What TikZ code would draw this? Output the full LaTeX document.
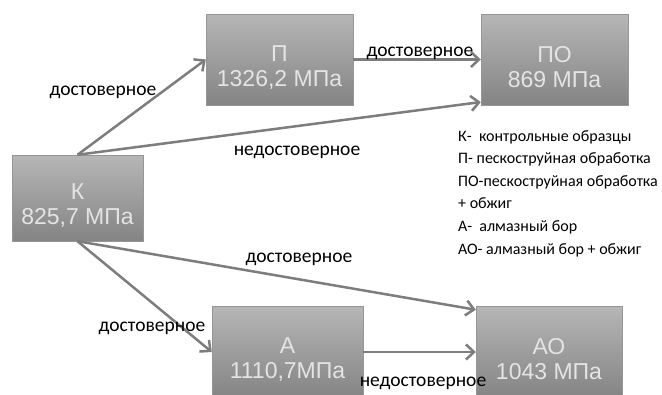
\documentclass[tikz,border=0pt]{standalone}
\usepackage{fontspec}
\setmainfont{Carlito}
\newfontfamily\boxfont{Liberation Sans}
\usetikzlibrary{arrows.meta}
\definecolor{boxtop}{RGB}{182,182,182}
\definecolor{boxbottom}{RGB}{132,132,132}
\definecolor{boxline}{RGB}{150,150,150}
\definecolor{arrowgray}{RGB}{125,125,125}
\definecolor{boxtext}{RGB}{228,228,228}
\newcommand\boxgap{\rule{0pt}{31pt}}

\begin{document}
\begin{tikzpicture}[x=1pt,y=-1pt,
  block/.style={rectangle,draw=boxline,top color=boxtop,bottom color=boxbottom,
    text=boxtext,align=center,inner sep=0pt,
    font=\boxfont\fontsize{23}{25}\selectfont},
  link/.style={draw=arrowgray,line width=2.5pt,
    -{Straight Barb[length=8pt,width=15pt]}},
  tag/.style={font=\fontsize{19.5}{22}\selectfont,inner sep=0pt},
  note/.style={font=\fontsize{16}{22.6}\selectfont,inner sep=0pt}]
\clip (0,0) rectangle (662,394);

% samples
\node[block,minimum width=131pt,minimum height=86pt] (K) at (77.5,198) {\boxgap К\\825,7 МПа};
\node[block,minimum width=147pt,minimum height=91pt] (P) at (279.5,59.5) {\boxgap П\\1326,2 МПа};
\node[block,minimum width=147pt,minimum height=91pt] (PO) at (554.5,59.5) {\boxgap ПО\\869 МПа};
\node[block,minimum width=151pt,minimum height=92pt] (A) at (287.5,352) {\boxgap А\\1110,7МПа};
\node[block,minimum width=146pt,minimum height=92pt] (AO) at (549,352) {\boxgap АО\\1043 МПа};

% arrows
\draw[link] (K.north) -- (P.west);
\draw[link] (K.north) -- (PO.210);
\draw[link] (P.east) -- (PO.west);
\draw[link] (K.south) -- (AO.150);
\draw[link] (K.south) -- (A.west);
\draw[link] (A.east) -- (AO.west);

\node[tag] (lKP) at (103,92) {достоверное};
\node[tag] (lKPO) at (297,152) {недостоверное};
\node[tag] (lPPO) at (420,53) {достоверное};
\node[tag] (lKAO) at (299,259) {достоверное};
\node[tag] (lKA) at (152,328) {достоверное};
\node[tag] (lAAO) at (423,383) {недостоверное};

% legend
\node[note,anchor=north west,align=left] (legend) at (458,130) {К-\ \ контрольные образцы\\
П- пескоструйная обработка\\
ПО-пескоструйная обработка\\
+ обжиг\\
А-\ \ алмазный бор\\
АО- алмазный бор + обжиг};
\end{tikzpicture}
\end{document}
